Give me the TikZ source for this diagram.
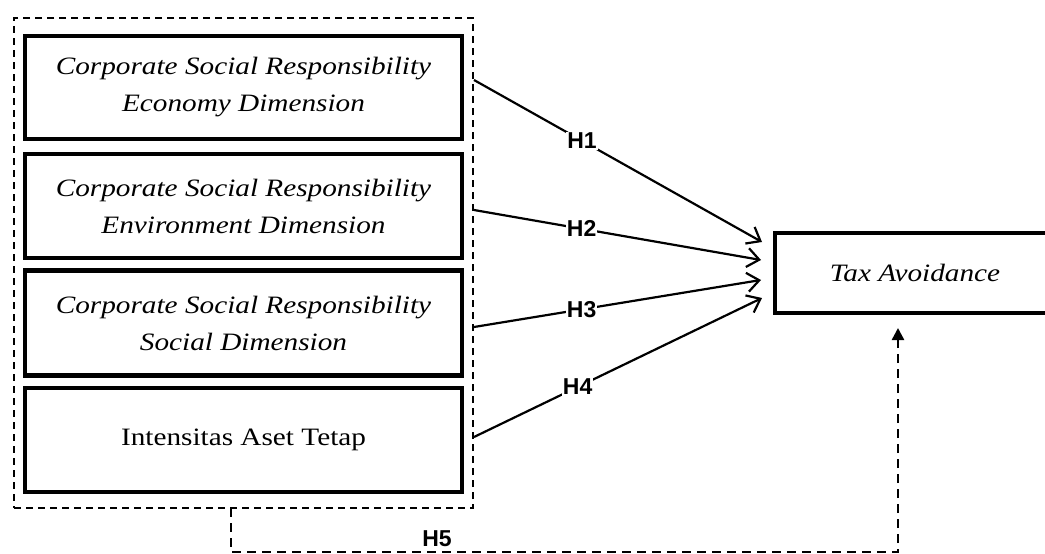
\documentclass[tikz,border=0pt]{standalone}
\usepackage{fontspec}
\setmainfont{Liberation Serif}
\newfontfamily\wideserif[FakeStretch=1.17]{Liberation Serif}
\newfontfamily\labsans{Liberation Sans}
\usetikzlibrary{arrows.meta}
\tikzset{
  varbox/.style={draw, line width=4.5pt, minimum width=437pt, align=center,
    font=\wideserif\fontsize{25}{37}\selectfont, inner sep=0pt},
  groupbox/.style={draw, dashed, dash pattern=on 7pt off 5pt, line width=2pt,
    minimum width=459pt, minimum height=490pt, inner sep=0pt},
  hyp/.style={line width=2.2pt, -{Straight Barb[length=12pt,width=19pt,line width=2.2pt]}},
  hlabel/.style={fill=white, inner sep=1pt, font=\labsans\bfseries\fontsize{23}{23}\selectfont},
  modline/.style={line width=2.4pt, dash pattern=on 9pt off 6pt, -{Triangle[length=12pt,width=12pt]}}
}
\begin{document}
\begin{tikzpicture}[x=1pt,y=-1pt]
\path[use as bounding box, clip] (0,0) rectangle (1045,554);
\node[groupbox] (grp) at (243.5,263) {};
\node[varbox, minimum height=103pt] (b1) at (243.5,87.5) {\itshape Corporate Social Responsibility\\\itshape Economy Dimension};
\node[varbox, minimum height=104pt] (b2) at (243.5,206) {\itshape Corporate Social Responsibility\\\itshape Environment Dimension};
\node[varbox, minimum height=105pt] (b3) at (243.5,323) {\itshape Corporate Social Responsibility\\\itshape Social Dimension};
\node[varbox, minimum height=104pt] (b4) at (243.5,440) {Intensitas Aset Tetap};
\node[draw, line width=4.5pt, minimum width=285pt, minimum height=80pt, inner sep=0pt,
  font=\wideserif\fontsize{25}{37}\selectfont] (tax) at (917.5,273) {\hspace*{-5pt}\itshape Tax Avoidance};
% connector endpoints
\coordinate (s1) at (grp.east |- 0,80);
\coordinate (s2) at (grp.east |- 0,210);
\coordinate (s3) at (grp.east |- 0,327);
\coordinate (s4) at (grp.east |- 0,437);
\coordinate (e1) at (762,242);
\coordinate (e2) at (761,260);
\coordinate (e3) at (761,280);
\coordinate (e4) at (762,298);
\draw[hyp] (s1) -- node[hlabel, pos=0.375] {H1} (e1);
\draw[hyp] (s2) -- node[hlabel, pos=0.375] {H2} (e2);
\draw[hyp] (s3) -- node[hlabel, pos=0.375] {H3} (e3);
\draw[hyp] (s4) -- node[hlabel, pos=0.36] {H4} (e4);
% moderation
\coordinate (m0) at (231,508);
\coordinate (m1) at (231,552);
\coordinate (m2) at (898,552);
\coordinate (m3) at (898,328);
\draw[modline] (m0) -- (m1) -- (m2) -- (m3);
\node[font=\labsans\bfseries\fontsize{23}{23}\selectfont] (h5) at (437,539) {H5};
\end{tikzpicture}
\end{document}
